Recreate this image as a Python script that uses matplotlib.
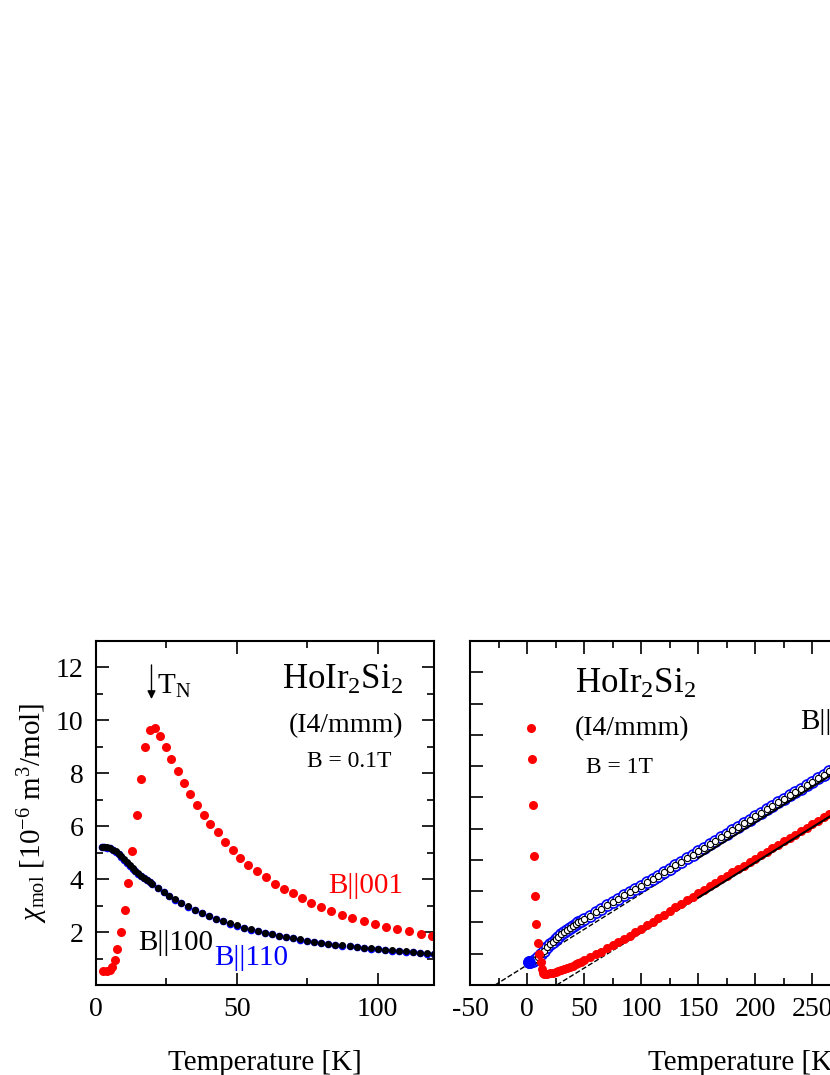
import matplotlib
matplotlib.use("Agg")
import matplotlib.pyplot as plt
from matplotlib.ticker import MultipleLocator

plt.rcParams["font.family"] = "Liberation Serif"
plt.rcParams["mathtext.fontset"] = "custom"
plt.rcParams["mathtext.rm"] = "Liberation Serif"
plt.rcParams["mathtext.it"] = "Liberation Serif:italic"
plt.rcParams["axes.unicode_minus"] = False

# ---- left panel: chi vs T, B = 0.1 T ----
T_001 = [2.5, 3.9, 4.8, 5.8, 6.6, 7.6, 9.0, 10.2, 11.4, 12.8, 14.4, 15.9, 17.4, 19.1, 20.9, 22.8, 24.7, 26.8,
         29.0, 31.1, 33.4, 35.7, 38.2, 40.6, 43.2, 45.7, 48.5, 51.3, 54.1, 57.1, 60.2, 63.4, 66.6, 69.8,
         73.1, 76.4, 80.0, 83.6, 87.2, 90.9, 95.0, 99.1, 103.0, 106.9, 111.1, 115.3, 119.4]
chi_001 = [0.53, 0.53, 0.58, 0.69, 0.93, 1.35, 2.0, 2.82, 3.86, 5.08, 6.41, 7.79, 8.98, 9.64, 9.70, 9.41, 8.98, 8.53,
           8.09, 7.65, 7.21, 6.82, 6.43, 6.08, 5.77, 5.42, 5.09, 4.80, 4.55, 4.30, 4.07, 3.83, 3.63, 3.46,
           3.28, 3.11, 2.94, 2.79, 2.64, 2.53, 2.40, 2.29, 2.19, 2.11, 2.03, 1.94, 1.87]
T_100 = [2, 3, 4, 5, 6, 7, 8, 9, 10, 11, 12, 13, 14, 15, 16, 17, 18, 19, 20, 22, 24, 26, 28, 30, 32.5, 35, 37.5,
         40, 42.5, 45, 47.5, 50, 52.5, 55, 57.5, 60, 62.5, 65, 67.5, 70, 72.5, 75, 77.5, 80, 82.5, 85, 87.5,
         90, 92.5, 95, 97.5, 100, 102.5, 105, 107.5, 110, 112.5, 115, 117.5, 120]
chi_100 = [5.22, 5.22, 5.20, 5.17, 5.12, 5.05, 4.96, 4.86, 4.75, 4.63, 4.52, 4.41, 4.31, 4.22, 4.13, 4.05, 3.97,
           3.89, 3.82, 3.67, 3.52, 3.38, 3.24, 3.11, 2.97, 2.84, 2.72, 2.61, 2.51, 2.42, 2.33, 2.25, 2.17, 2.10,
           2.04, 1.98, 1.92, 1.87, 1.82, 1.77, 1.72, 1.68, 1.64, 1.60, 1.56, 1.53, 1.50, 1.47, 1.44, 1.41, 1.38,
           1.36, 1.33, 1.31, 1.29, 1.27, 1.25, 1.22, 1.20, 1.18]
T_110 = T_100
chi_110 = [5.22, 5.21, 5.19, 5.16, 5.11, 5.04, 4.95, 4.85, 4.74, 4.62, 4.51, 4.40, 4.30, 4.21, 4.12, 4.04, 3.96,
           3.88, 3.81, 3.66, 3.51, 3.37, 3.23, 3.10, 2.96, 2.83, 2.71, 2.60, 2.50, 2.41, 2.32, 2.24, 2.16, 2.09,
           2.03, 1.97, 1.91, 1.86, 1.81, 1.76, 1.71, 1.67, 1.63, 1.59, 1.55, 1.52, 1.49, 1.46, 1.43, 1.40, 1.37,
           1.35, 1.32, 1.30, 1.28, 1.26, 1.24, 1.21, 1.19, 1.17]

# ---- right panel: inverse chi vs T, B = 1 T ----
T_inv001 = [3.2, 4.1, 5.0, 6.2, 7.3, 8.2, 9.4, 10.8, 12, 13, 14, 15, 17.5, 20, 22.5, 25, 27.5, 30, 32.5, 35,
            37.5, 40, 42.5, 45, 47.5, 50, 55, 60, 65, 70, 75, 80, 85, 90, 95, 100, 105, 110, 115, 120, 125,
            130, 135, 140, 145, 150, 155, 160, 165, 170, 175, 180, 185, 190, 195, 200, 205, 210, 215, 220,
            225, 230, 235, 240, 245, 250, 255, 260, 265, 270, 275, 280, 290, 300]
inv_001 = [8.22, 7.24, 5.77, 4.14, 2.84, 1.94, 1.35, 0.99, 0.75, 0.5, 0.38, 0.35, 0.35, 0.37, 0.39, 0.42, 0.45,
           0.48, 0.51, 0.55, 0.58, 0.62, 0.66, 0.71, 0.75, 0.80, 0.89, 0.98, 1.07, 1.17, 1.27, 1.38, 1.48,
           1.58, 1.69, 1.80, 1.91, 2.02, 2.13, 2.25, 2.36, 2.48, 2.59, 2.71, 2.82, 2.94, 3.05, 3.16, 3.27,
           3.38, 3.49, 3.60, 3.71, 3.82, 3.93, 4.04, 4.15, 4.26, 4.37, 4.48, 4.59, 4.70, 4.81, 4.92, 5.03,
           5.14, 5.25, 5.36, 5.47, 5.58, 5.69, 5.80, 6.02, 6.24]
T_inv110 = [2, 3, 5, 7.5, 10, 12.5, 15, 17.5, 20, 22.5, 25, 27.5, 30, 32.5, 35, 37.5, 40, 42.5, 45, 47.5, 50,
            55, 60, 65, 70, 75, 80, 85, 90, 95, 100, 105, 110, 115, 120, 125, 130, 135, 140, 145, 150, 155,
            160, 165, 170, 175, 180, 185, 190, 195, 200, 205, 210, 215, 220, 225, 230, 235, 240, 245, 250,
            255, 260, 265, 270, 275, 280, 290, 300]
inv_110 = [0.73, 0.73, 0.76, 0.82, 0.88, 0.99, 1.10, 1.20, 1.30, 1.39, 1.47, 1.55, 1.62, 1.69, 1.76, 1.82,
           1.88, 1.94, 2.0, 2.05, 2.1, 2.22, 2.33, 2.44, 2.55, 2.66, 2.76, 2.87, 2.97, 3.07, 3.17, 3.28, 3.39,
           3.50, 3.61, 3.72, 3.83, 3.94, 4.05, 4.16, 4.27, 4.39, 4.50, 4.61, 4.72, 4.84, 4.95, 5.06, 5.17,
           5.29, 5.40, 5.51, 5.62, 5.73, 5.84, 5.95, 6.06, 6.17, 6.28, 6.39, 6.50, 6.61, 6.72, 6.83, 6.94,
           7.05, 7.16, 7.38, 7.60]
T_inv100 = T_inv110
inv_100 = inv_110
fit110_T = [-28, 150, 300]
fit110_y = [0.0, 4.06, 7.48]
fit001_T = [26, 150, 300]
fit001_y = [0.0, 2.79, 6.17]

fig = plt.figure(figsize=(8.3, 10.75), dpi=100)
axL = fig.add_axes([96/830, 90/1075, 338/830, 344/1075])
axR = fig.add_axes([470/830, 90/1075, 550/830, 344/1075])

for ax in (axL, axR):
    ax.tick_params(which="both", direction="in", top=True, right=True, width=1.2, labelsize=20, pad=9)
    ax.tick_params(which="major", length=9)
    ax.tick_params(which="minor", length=5)
    for s in ax.spines.values():
        s.set_linewidth(1.5)

axL.plot(T_001, chi_001, "o", color="red", ms=6.5, mec="none")
axL.plot(T_110, chi_110, "o", color="blue", ms=5.5, mec="none")
axL.plot(T_100, chi_100, "o", color="black", ms=5, mec="none")
axL.set_xlim(0, 120)
axL.set_ylim(0, 13)
axL.xaxis.set_major_locator(MultipleLocator(50))
axL.xaxis.set_minor_locator(MultipleLocator(25))
axL.yaxis.set_minor_locator(MultipleLocator(1))
axL.set_yticks([2, 4, 6, 8, 10, 12])
axL.set_xlabel("Temperature [K]", fontsize=21, labelpad=20)
axL.set_ylabel(r"$\chi_{\rm mol}$ [10$^{-6}$ m$^3$/mol]", fontsize=21, labelpad=4)
axL.annotate("", xy=(19.7, 10.7), xytext=(19.7, 12.2),
             arrowprops=dict(arrowstyle="-|>", color="black", lw=1, mutation_scale=12))
axL.text(21.5, 11.3, r"T$_{\rm N}$", fontsize=21, va="center")
axL.text(109, 11.5, r"HoIr$_2$Si$_2$", fontsize=25, ha="right", va="center")
axL.text(109, 9.8, "(I4/mmm)", fontsize=20, ha="right", va="center")
axL.text(105, 8.45, "B = 0.1T", fontsize=17, ha="right", va="center")
axL.text(109, 3.73, "B||001", fontsize=21, ha="right", va="center", color="red")
axL.text(15, 1.6, "B||100", fontsize=21, ha="left", va="center", color="black")
axL.text(42, 1.03, "B||110", fontsize=21, ha="left", va="center", color="blue")

axR.plot(fit110_T[:2], fit110_y[:2], "--", color="black", lw=1)
axR.plot(fit001_T[:2], fit001_y[:2], "--", color="black", lw=1)
axR.plot(T_inv110, inv_110, "o", mfc="white", mec="blue", ms=8, mew=1.2)
axR.plot(T_inv100, inv_100, "o", mfc="white", mec="black", ms=4.5, mew=0.8)
axR.plot(T_inv001, inv_001, "o", color="red", ms=6.5, mec="none")
axR.plot(fit110_T[1:], fit110_y[1:], "-", color="black", lw=1.5)
axR.plot(fit001_T[1:], fit001_y[1:], "-", color="black", lw=1.5)
axR.plot([2], [0.73], "o", color="blue", ms=9, mec="none")
axR.set_xlim(-50, 432)
axR.set_ylim(0, 11)
axR.xaxis.set_major_locator(MultipleLocator(50))
axR.xaxis.set_minor_locator(MultipleLocator(25))
axR.yaxis.set_major_locator(MultipleLocator(1))
axR.set_yticklabels([])
axR.set_xlabel("Temperature [K]", fontsize=21, labelpad=20)
axR.text(42, 9.6, r"HoIr$_2$Si$_2$", fontsize=25, ha="left", va="center")
axR.text(42, 8.2, "(I4/mmm)", fontsize=20, ha="left", va="center")
axR.text(52, 6.97, "B = 1T", fontsize=17, ha="left", va="center")
axR.text(239, 8.4, "B||100", fontsize=21, ha="left", va="center")

fig.savefig("out.png", dpi=100)
